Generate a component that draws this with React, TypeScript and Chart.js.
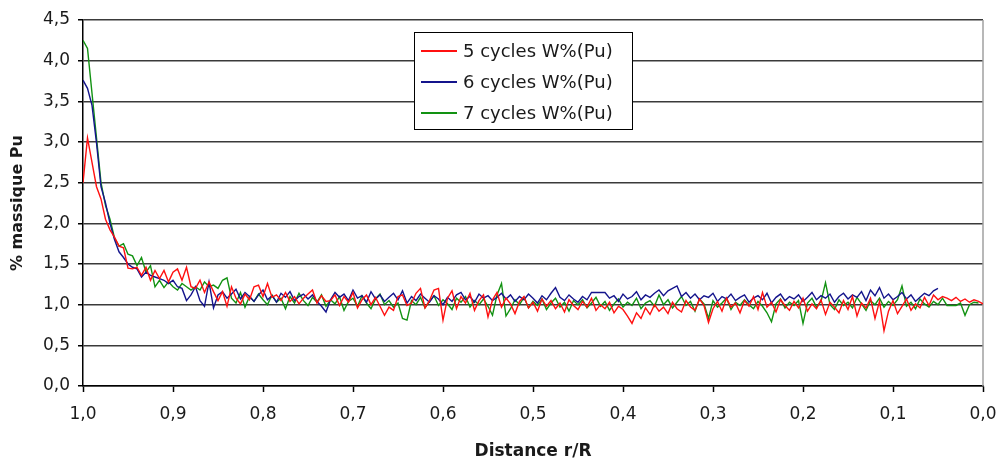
import { useEffect, useRef } from 'react';
import { Chart, registerables } from 'chart.js';

Chart.register(...registerables);

// Distance r/R (sampling positions)
const distance = [
  1.000, 0.995, 0.990, 0.985, 0.980, 0.975, 0.970, 0.965, 0.960, 0.955,
  0.950, 0.945, 0.940, 0.935, 0.930, 0.925, 0.920, 0.915, 0.910, 0.905,
  0.900, 0.895, 0.890, 0.885, 0.880, 0.875, 0.870, 0.865, 0.860, 0.855,
  0.850, 0.845, 0.840, 0.835, 0.830, 0.825, 0.820, 0.815, 0.810, 0.805,
  0.800, 0.795, 0.790, 0.785, 0.780, 0.775, 0.770, 0.765, 0.760, 0.755,
  0.750, 0.745, 0.740, 0.735, 0.730, 0.725, 0.720, 0.715, 0.710, 0.705,
  0.700, 0.695, 0.690, 0.685, 0.680, 0.675, 0.670, 0.665, 0.660, 0.655,
  0.650, 0.645, 0.640, 0.635, 0.630, 0.625, 0.620, 0.615, 0.610, 0.605,
  0.600, 0.595, 0.590, 0.585, 0.580, 0.575, 0.570, 0.565, 0.560, 0.555,
  0.550, 0.545, 0.540, 0.535, 0.530, 0.525, 0.520, 0.515, 0.510, 0.505,
  0.500, 0.495, 0.490, 0.485, 0.480, 0.475, 0.470, 0.465, 0.460, 0.455,
  0.450, 0.445, 0.440, 0.435, 0.430, 0.425, 0.420, 0.415, 0.410, 0.405,
  0.400, 0.395, 0.390, 0.385, 0.380, 0.375, 0.370, 0.365, 0.360, 0.355,
  0.350, 0.345, 0.340, 0.335, 0.330, 0.325, 0.320, 0.315, 0.310, 0.305,
  0.300, 0.295, 0.290, 0.285, 0.280, 0.275, 0.270, 0.265, 0.260, 0.255,
  0.250, 0.245, 0.240, 0.235, 0.230, 0.225, 0.220, 0.215, 0.210, 0.205,
  0.200, 0.195, 0.190, 0.185, 0.180, 0.175, 0.170, 0.165, 0.160, 0.155,
  0.150, 0.145, 0.140, 0.135, 0.130, 0.125, 0.120, 0.115, 0.110, 0.105,
  0.100, 0.095, 0.090, 0.085, 0.080, 0.075, 0.070, 0.065, 0.060, 0.055,
  0.050, 0.045, 0.040, 0.035, 0.030, 0.025, 0.020, 0.015, 0.010, 0.005,
  0.000,
];

// 5 cycles W%(Pu)
const pu5 = [
  2.50, 3.05, 2.75, 2.45, 2.30, 2.05, 1.92, 1.83, 1.72, 1.70,
  1.45, 1.44, 1.46, 1.36, 1.46, 1.30, 1.42, 1.32, 1.42, 1.28,
  1.40, 1.44, 1.30, 1.46, 1.22, 1.20, 1.30, 1.15, 1.28, 1.16,
  1.05, 1.16, 0.98, 1.22, 1.08, 1.01, 1.13, 1.06, 1.22, 1.24,
  1.10, 1.26, 1.09, 1.12, 1.05, 1.15, 1.04, 1.10, 1.01, 1.08,
  1.13, 1.18, 1.02, 1.11, 1.04, 1.05, 1.12, 0.99, 1.10, 1.03,
  1.15, 0.96, 1.06, 1.12, 1.00, 1.09, 0.98, 0.87, 0.97, 0.93,
  1.10, 1.12, 0.99, 1.02, 1.14, 1.20, 0.96, 1.05, 1.18, 1.20,
  0.81, 1.08, 1.17, 0.95, 1.10, 1.02, 1.14, 0.93, 1.05, 1.12,
  0.85, 1.06, 1.15, 0.97, 1.08, 1.01, 0.89, 1.04, 1.10, 0.96,
  1.03, 0.92, 1.07, 0.98, 1.05, 0.95, 1.02, 0.91, 1.06, 0.99,
  0.94, 1.04, 0.97, 1.08, 0.93, 1.00, 0.95, 1.03, 0.90, 0.98,
  0.94, 0.86, 0.77, 0.90, 0.83, 0.96, 0.88, 1.00, 0.92, 0.97,
  0.89, 1.03, 0.95, 0.91, 1.05, 0.97, 0.93, 1.07, 0.99, 0.78,
  0.95, 1.04, 0.92, 1.08, 0.97, 1.02, 0.90, 1.05, 0.98, 1.10,
  0.94, 1.15, 0.97, 1.03, 0.91, 1.06, 0.99, 0.93, 1.04, 0.96,
  1.08, 0.92, 1.01, 0.95, 1.06, 0.88, 1.03, 0.97, 0.90, 1.05,
  0.94, 1.10, 0.86, 1.02, 0.96, 1.08, 0.83, 1.04, 0.68, 0.92,
  1.05, 0.89, 0.98, 1.07, 0.93, 1.01, 0.96, 1.09, 0.99, 1.12,
  1.06, 1.10, 1.08, 1.05, 1.09, 1.04, 1.07, 1.03, 1.06, 1.04,
  1.01,
];

// 6 cycles W%(Pu)
const pu6 = [
  3.76, 3.66, 3.45, 2.99, 2.45, 2.25, 2.00, 1.80, 1.65, 1.58,
  1.50, 1.46, 1.44, 1.34, 1.40, 1.36, 1.34, 1.32, 1.30, 1.26,
  1.30, 1.22, 1.20, 1.05, 1.12, 1.22, 1.05, 0.98, 1.28, 0.96,
  1.12, 1.16, 1.08, 1.13, 1.19, 1.07, 1.15, 1.10, 1.04, 1.12,
  1.18, 1.06, 1.11, 1.03, 1.14, 1.09, 1.16, 1.05, 1.10, 1.13,
  1.07, 1.12, 1.04, 0.98, 0.91, 1.06, 1.15, 1.09, 1.13, 1.05,
  1.18, 1.08, 1.11, 1.03, 1.16, 1.07, 1.12, 1.04, 1.09, 1.14,
  1.06, 1.17, 1.02, 1.10, 1.05, 1.13, 1.08, 1.03, 1.11, 1.07,
  1.00, 1.09, 1.04, 1.12, 1.15, 1.06, 1.10, 1.03, 1.13, 1.08,
  1.11, 1.05, 1.09, 1.14, 1.07, 1.12, 1.04, 1.10, 1.06, 1.13,
  1.08, 1.02, 1.11, 1.06, 1.14, 1.21, 1.09, 1.05, 1.12, 1.07,
  1.03, 1.10, 1.06, 1.15, 1.15, 1.15, 1.15, 1.08, 1.11, 1.04,
  1.13, 1.07, 1.10, 1.16, 1.06, 1.12, 1.09, 1.14, 1.18, 1.11,
  1.17, 1.20, 1.23, 1.10, 1.15, 1.08, 1.13, 1.06, 1.11, 1.09,
  1.14, 1.04, 1.10, 1.07, 1.13, 1.05, 1.09, 1.12, 1.03, 1.08,
  1.11, 1.06, 1.14, 1.02, 1.09, 1.13, 1.05, 1.10, 1.07, 1.12,
  1.04, 1.09, 1.15, 1.06, 1.11, 1.08, 1.13, 1.03, 1.10, 1.14,
  1.07, 1.12, 1.09, 1.16, 1.05, 1.18, 1.11, 1.21, 1.08, 1.13,
  1.06, 1.10, 1.15, 1.07, 1.12, 1.04, 1.09, 1.14, 1.11, 1.17,
  1.20, null, null, null, null, null, null, null, null, null,
  null,
];

// 7 cycles W%(Pu)
const pu7 = [
  4.25, 4.15, 3.60, 3.05, 2.50, 2.22, 2.05, 1.82, 1.72, 1.75,
  1.62, 1.60, 1.48, 1.58, 1.40, 1.48, 1.22, 1.30, 1.21, 1.28,
  1.22, 1.18, 1.26, 1.22, 1.18, 1.22, 1.18, 1.28, 1.22, 1.24,
  1.20, 1.30, 1.33, 1.08, 1.02, 1.15, 0.97, 1.10, 1.04, 1.13,
  1.06, 1.00, 1.12, 1.03, 1.08, 0.95, 1.10, 1.02, 1.14, 1.05,
  0.99, 1.09, 1.03, 1.12, 0.98, 1.06, 1.01, 1.10, 0.93, 1.04,
  1.08, 0.98, 1.11, 1.02, 0.95, 1.07, 1.13, 1.00, 1.05, 0.97,
  1.02, 0.83, 0.81, 1.05, 1.00, 1.09, 0.96, 1.04, 1.11, 0.99,
  1.06, 1.01, 0.94, 1.08, 1.03, 1.10, 0.97, 1.05, 1.00, 1.07,
  0.98, 0.87, 1.12, 1.26, 0.86, 0.95, 1.06, 1.00, 1.09, 0.96,
  1.04, 0.99, 1.07, 0.94, 1.02, 1.08, 0.97, 1.03, 0.92, 1.05,
  1.00, 1.06, 0.96, 1.02, 1.09, 0.98, 1.04, 0.93, 1.01, 1.07,
  0.97, 1.03, 0.99, 1.08, 0.95, 1.02, 1.05, 0.98, 1.12, 1.00,
  1.06, 0.96, 1.03, 1.10, 0.99, 1.04, 0.92, 1.07, 1.01, 0.83,
  1.05, 0.97, 1.02, 1.08, 0.94, 1.03, 0.99, 1.06, 1.00, 0.95,
  1.04, 0.98, 0.90, 0.79, 1.01, 1.07, 0.96, 1.03, 0.99, 1.05,
  0.77, 1.02, 1.08, 0.97, 1.04, 1.27, 1.00, 0.94, 1.06, 0.99,
  1.03, 0.96, 1.09, 1.01, 0.93, 1.05, 1.00, 1.08, 0.97, 1.04,
  0.99, 1.06, 1.23, 0.98, 1.03, 0.95, 1.07, 1.01, 0.97, 1.04,
  1.00, 1.08, 0.99, 0.99, 0.99, 1.02, 0.87, 1.00, 1.03, 1.02,
  null,
];

const seriesLabels = ['5 cycles W%(Pu)', '6 cycles W%(Pu)', '7 cycles W%(Pu)'];
const seriesValues = [pu5, pu6, pu7];
const seriesColors = ['#ff1010', '#14148c', '#129212'];

const xTitle = 'Distance r/R';
const yTitle = '% massique Pu';

const fmt = (v: number) => Number(v).toFixed(1).replace('.', ',');
const TEXT = '#1a1a1a';

const boxLegend = {
  id: 'boxLegend',
  beforeDatasetsDraw(chart: any) {
    const { ctx, chartArea } = chart;
    ctx.save();
    ctx.strokeStyle = '#a0a0a0';
    ctx.lineWidth = 1.5;
    ctx.beginPath();
    ctx.moveTo(chartArea.right, chartArea.top);
    ctx.lineTo(chartArea.right, chartArea.bottom);
    ctx.stroke();
    ctx.restore();
  },
  afterDraw(chart: any) {
    const ctx = chart.ctx;
    const x = 414, y = 32, w = 218, h = 97;
    ctx.save();
    ctx.fillStyle = '#ffffff';
    ctx.fillRect(x, y, w, h);
    ctx.strokeStyle = '#000000';
    ctx.lineWidth = 1;
    ctx.strokeRect(x + 0.5, y + 0.5, w, h);
    chart.data.datasets.forEach((ds: any, i: number) => {
      const cy = y + 19 + i * 31;
      ctx.strokeStyle = ds.borderColor;
      ctx.lineWidth = 2;
      ctx.beginPath();
      ctx.moveTo(x + 7, cy);
      ctx.lineTo(x + 43, cy);
      ctx.stroke();
      ctx.fillStyle = TEXT;
      ctx.font = '18px "DejaVu Sans"';
      ctx.textBaseline = 'middle';
      ctx.textAlign = 'left';
      ctx.fillText(ds.label, x + 49, cy + 1);
    });
    ctx.restore();
  },
};

export default function App() {
  const canvasRef = useRef<HTMLCanvasElement | null>(null);

  useEffect(() => {
    if (!canvasRef.current) return;
    const datasets = seriesLabels.map((label, s) => ({
      label,
      data: distance.map((d, i) => ({ x: d, y: seriesValues[s][i] })),
      borderColor: seriesColors[s],
      backgroundColor: seriesColors[s],
      borderWidth: 1.4,
      pointRadius: 0,
      tension: 0,
      spanGaps: false,
    }));
    const chart = new Chart(canvasRef.current, {
      type: 'line',
      data: { datasets },
      plugins: [boxLegend],
      options: {
        animation: false,
        responsive: false,
        maintainAspectRatio: false,
        layout: { padding: { top: 20, right: 17, left: 0, bottom: 0 } },
        plugins: { legend: { display: false }, tooltip: { enabled: false } },
        scales: {
          x: {
            type: 'linear',
            reverse: true,
            min: 0,
            max: 1,
            afterFit: (s: any) => { s.height = 76; s.paddingLeft = 0; s.paddingRight = 0; },
            ticks: {
              stepSize: 0.1,
              autoSkip: false,
              maxRotation: 0,
              padding: 12,
              color: TEXT,
              font: { family: 'DejaVu Sans', size: 17 },
              callback: (v: any) => fmt(v),
            },
            grid: {
              drawOnChartArea: false,
              drawTicks: true,
              tickLength: 6,
              tickColor: '#000',
              tickWidth: 1.5,
            },
            border: { display: true, color: '#000', width: 1.5 },
            title: {
              display: true,
              text: xTitle,
              color: TEXT,
              font: { family: 'DejaVu Sans', size: 17, weight: 'bold' },
              padding: { top: 0, bottom: 0 },
            },
          },
          y: {
            type: 'linear',
            min: 0,
            max: 4.5,
            afterFit: (s: any) => { s.width = 83; s.paddingTop = 0; s.paddingBottom = 0; },
            ticks: {
              stepSize: 0.5,
              padding: 8,
              color: TEXT,
              font: { family: 'DejaVu Sans', size: 17 },
              callback: (v: any) => fmt(v),
            },
            grid: {
              color: '#3a3a3a',
              lineWidth: 1.5,
              drawTicks: true,
              tickLength: 5,
              tickColor: '#000',
              tickWidth: 1.5,
            },
            border: { display: true, color: '#000', width: 1.5 },
            title: {
              display: true,
              text: yTitle,
              color: TEXT,
              font: { family: 'DejaVu Sans', size: 16, weight: 'bold' },
              padding: { top: 8, bottom: 0 },
            },
          },
        },
      } as any,
    });
    return () => chart.destroy();
  }, []);

  return (
    <div style={{ position: 'fixed', left: 0, top: 0, width: 1000, height: 462, background: '#fff' }}>
      <canvas ref={canvasRef} width={1000} height={462} style={{ width: 1000, height: 462, display: 'block' }} />
    </div>
  );
}
